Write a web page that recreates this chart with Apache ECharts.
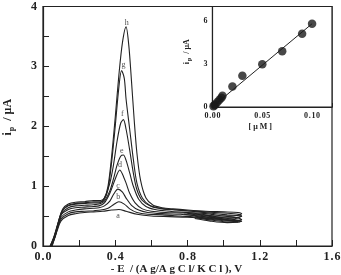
<!DOCTYPE html>
<html>
<head>
<meta charset="utf-8">
<script src="https://cdn.jsdelivr.net/npm/echarts@6/dist/echarts.min.js"></script>
<style>
  html, body { margin: 0; padding: 0; background: #fff; }
  #main { width: 341px; height: 275px; }
</style>
</head>
<body>
<div id="main"></div>
<script>
// voltammograms a..h : [E (V), ip (uA)]
var curveA = [[0.04,0],[0.06,0.1],[0.08,0.27],[0.10,0.42],[0.14,0.51],[0.18,0.54],[0.23,0.56],[0.28,0.57],[0.33,0.58],[0.38,0.6],[0.42,0.61],[0.46,0.58],[0.52,0.53],[0.60,0.5],[0.70,0.49],[0.80,0.48],[0.90,0.46],[1.00,0.44],[1.08,0.42]]
var curveB = [[0.04,0],[0.06,0.12],[0.08,0.3],[0.10,0.45],[0.14,0.54],[0.18,0.57],[0.23,0.58],[0.28,0.59],[0.32,0.6],[0.36,0.63],[0.39,0.69],[0.42,0.74],[0.45,0.7],[0.48,0.62],[0.52,0.56],[0.58,0.53],[0.66,0.52],[0.76,0.5],[0.86,0.48],[0.96,0.45],[1.04,0.42],[1.08,0.4]]
var curveC = [[0.04,0],[0.06,0.14],[0.08,0.32],[0.10,0.48],[0.14,0.57],[0.18,0.6],[0.23,0.62],[0.28,0.63],[0.31,0.64],[0.34,0.67],[0.37,0.75],[0.39,0.86],[0.415,0.95],[0.44,0.9],[0.46,0.8],[0.49,0.68],[0.53,0.6],[0.58,0.56],[0.66,0.54],[0.76,0.53],[0.86,0.5],[0.96,0.47],[1.04,0.43],[1.09,0.4],[1.02,0.39],[0.92,0.42],[0.84,0.46]]
var curveD = [[0.04,0],[0.06,0.15],[0.08,0.35],[0.10,0.52],[0.14,0.61],[0.18,0.64],[0.23,0.65],[0.28,0.66],[0.31,0.67],[0.34,0.72],[0.37,0.88],[0.40,1.12],[0.425,1.27],[0.44,1.2],[0.46,1.05],[0.48,0.88],[0.51,0.72],[0.55,0.62],[0.60,0.58],[0.68,0.56],[0.78,0.55],[0.88,0.52],[0.98,0.48],[1.06,0.44],[1.10,0.41],[1.03,0.4],[0.94,0.43],[0.85,0.47]]
var curveE = [[0.045,0],[0.065,0.17],[0.085,0.38],[0.105,0.55],[0.14,0.64],[0.18,0.67],[0.23,0.68],[0.28,0.69],[0.31,0.7],[0.34,0.75],[0.37,0.92],[0.39,1.12],[0.41,1.35],[0.43,1.5],[0.445,1.52],[0.46,1.43],[0.48,1.22],[0.50,1.0],[0.53,0.78],[0.57,0.66],[0.62,0.61],[0.70,0.58],[0.80,0.56],[0.90,0.54],[1.00,0.5],[1.08,0.47],[1.10,0.44],[1.02,0.42],[0.92,0.45],[0.84,0.5]]
var curveF = [[0.045,0],[0.065,0.18],[0.085,0.4],[0.105,0.58],[0.14,0.67],[0.18,0.7],[0.23,0.71],[0.28,0.72],[0.31,0.72],[0.34,0.8],[0.37,1.05],[0.39,1.35],[0.41,1.75],[0.43,2.05],[0.445,2.11],[0.46,1.95],[0.48,1.6],[0.50,1.22],[0.52,0.94],[0.55,0.76],[0.60,0.66],[0.66,0.62],[0.74,0.6],[0.82,0.58],[0.92,0.55],[1.02,0.52],[1.10,0.5],[1.05,0.45],[0.96,0.46],[0.86,0.5],[0.78,0.53]]
var curveG = [[0.05,0],[0.07,0.18],[0.09,0.42],[0.11,0.6],[0.14,0.68],[0.18,0.71],[0.23,0.72],[0.28,0.74],[0.32,0.74],[0.34,0.78],[0.36,0.95],[0.38,1.4],[0.40,2.0],[0.42,2.65],[0.435,2.93],[0.45,2.8],[0.46,2.45],[0.48,1.95],[0.50,1.45],[0.52,1.05],[0.55,0.8],[0.59,0.68],[0.65,0.63],[0.72,0.61],[0.80,0.59],[0.90,0.57],[1.00,0.55],[1.08,0.53],[1.10,0.5],[1.04,0.47],[0.96,0.48],[0.88,0.51],[0.80,0.54]]
var curveH = [[0.05,0],[0.07,0.2],[0.09,0.45],[0.11,0.62],[0.14,0.7],[0.18,0.73],[0.23,0.74],[0.28,0.76],[0.32,0.76],[0.34,0.8],[0.36,1.0],[0.38,1.5],[0.40,2.15],[0.42,2.85],[0.44,3.4],[0.46,3.66],[0.475,3.35],[0.49,2.75],[0.505,2.1],[0.52,1.55],[0.54,1.1],[0.57,0.8],[0.61,0.68],[0.66,0.64],[0.72,0.62],[0.80,0.6],[0.90,0.58],[1.00,0.57],[1.08,0.56],[1.10,0.54],[1.04,0.5],[0.96,0.5],[0.88,0.53],[0.80,0.56]]

var curveNames = ['a','b','c','d','e','f','g','h']
var labelX = [0.415, 0.417, 0.415, 0.426, 0.436, 0.439, 0.445, 0.463]
var labelY = [0.5, 0.82, 1.0, 1.35, 1.59, 2.2, 3.02, 3.72]

// inset calibration
var concX = [0.001, 0.002, 0.003, 0.005, 0.007, 0.009, 0.01, 0.02, 0.03, 0.05, 0.07, 0.09, 0.1]
var peakY = [0.06, 0.12, 0.2, 0.35, 0.5, 0.65, 0.78, 1.42, 2.17, 2.97, 3.88, 5.1, 5.8]
var fitX = [0, 0.1]
var fitY = [0.02, 5.8]

var serif = 'Liberation Serif'

function spaced(s) {
    return s.split('').join('\u200a')
}

var chart = echarts.init(document.getElementById('main'))

var curves = [curveA, curveB, curveC, curveD, curveE, curveF, curveG, curveH]
var series = curves.map(function (c, i) {
    return {
        name: curveNames[i],
        type: 'line',
        xAxisIndex: 0,
        yAxisIndex: 0,
        data: c,
        smooth: 0.3,
        symbol: 'none',
        lineStyle: { color: '#222', width: 1.1 },
        z: 3
    }
})

// small letters on the peaks
series.push({
    type: 'scatter',
    xAxisIndex: 0,
    yAxisIndex: 0,
    data: labelX.map(function (x, i) { return [x, labelY[i], curveNames[i]] }),
    symbolSize: 1,
    itemStyle: { color: 'rgba(0,0,0,0)' },
    label: {
        show: true,
        position: 'inside',
        formatter: function (p) { return p.value[2] },
        fontFamily: serif,
        fontSize: 8,
        color: '#222'
    },
    z: 4
})

series.push({
    type: 'line',
    xAxisIndex: 1,
    yAxisIndex: 1,
    data: fitX.map(function (x, i) { return [x, fitY[i]] }),
    symbol: 'none',
    lineStyle: { color: '#222', width: 1 },
    z: 5
})

series.push({
    type: 'scatter',
    xAxisIndex: 1,
    yAxisIndex: 1,
    data: concX.map(function (x, i) { return [x, peakY[i]] }),
    symbolSize: 8.5,
    itemStyle: { color: '#1a1a1a' },
    z: 6
})

var axisLine = { lineStyle: { color: '#222', width: 1.2 } }

var option = {
    backgroundColor: '#fff',
    animation: false,
    grid: [
        { left: 43, right: 9, top: 6.5, bottom: 29, show: true, borderColor: '#222', borderWidth: 1.2, outerBoundsMode: 'none', containLabel: false },
        { left: 212.5, right: 9, top: 6.5, bottom: 168, show: true, backgroundColor: '#fff', borderColor: '#222', borderWidth: 1.2, z: 4, outerBoundsMode: 'none', containLabel: false }
    ],
    xAxis: [
        {
            gridIndex: 0, type: 'value', min: 0, max: 1.6, interval: 0.2,
            axisLine: axisLine,
            axisTick: { inside: true, length: 6, lineStyle: { color: '#222' } },
            splitLine: { show: false },
            axisLabel: {
                fontFamily: serif, fontWeight: 'bold', fontSize: 12, color: '#222', margin: 5,
                formatter: function (v) {
                    return Math.round(v * 10) % 4 === 0 ? spaced(v.toFixed(1)) : ''
                }
            },
            name: '- E  / (A g/A g C l/ K C l ), V',
            nameLocation: 'middle',
            nameGap: 18,
            nameMoveOverlap: false,
            nameTextStyle: { fontFamily: serif, fontWeight: 'bold', fontSize: 11, color: '#222', padding: [0, 22, 0, 0] }
        },
        {
            gridIndex: 1, type: 'value', min: 0, max: 0.12, interval: 0.025,
            axisLine: axisLine,
            axisTick: { inside: true, length: 4, lineStyle: { color: '#222' } },
            splitLine: { show: false },
            axisLabel: {
                fontFamily: serif, fontWeight: 'bold', fontSize: 8, color: '#222', margin: 5,
                formatter: function (v) {
                    var k = Math.round(v * 1000)
                    return (k % 50 === 0 && k <= 100) ? spaced(v.toFixed(2)) : ''
                }
            },
            name: '[ μ M ]',
            nameLocation: 'middle',
            nameGap: 16,
            nameMoveOverlap: false,
            nameTextStyle: { fontFamily: serif, fontWeight: 'bold', fontSize: 8, color: '#222', padding: [0, 24, 0, 0] }
        }
    ],
    yAxis: [
        {
            gridIndex: 0, type: 'value', min: 0, max: 4, interval: 0.5,
            axisLine: axisLine,
            axisTick: { inside: true, length: 6, lineStyle: { color: '#222' } },
            splitLine: { show: false },
            axisLabel: {
                fontFamily: serif, fontWeight: 'bold', fontSize: 12, color: '#222', margin: 6,
                formatter: function (v) { return Math.round(v * 10) % 10 === 0 ? String(v) : '' }
            },
            name: '{i|i}{p|p}{u|  / μA}',
            nameLocation: 'middle',
            nameRotate: 90,
            nameGap: 27,
            nameMoveOverlap: false,
            nameTextStyle: {
                color: '#222',
                padding: [0, 0, 0, 18],
                rich: {
                    i: { fontFamily: serif, fontWeight: 'bold', fontSize: 12, color: '#222' },
                    p: { fontFamily: serif, fontWeight: 'bold', fontSize: 8, color: '#222', padding: [9, 0, 0, 1] },
                    u: { fontFamily: serif, fontWeight: 'bold', fontSize: 12, color: '#222' }
                }
            }
        },
        {
            gridIndex: 1, type: 'value', min: 0, max: 7, interval: 1.5,
            axisLine: axisLine,
            axisTick: { inside: true, length: 4, lineStyle: { color: '#222' } },
            splitLine: { show: false },
            axisLabel: {
                fontFamily: serif, fontWeight: 'bold', fontSize: 8, color: '#222', margin: 5,
                formatter: function (v) {
                    var k = Math.round(v * 10)
                    return (k % 30 === 0 && k < 70) ? String(v) : ''
                }
            },
            name: '{i|i}{p|p}{u|  / μA}',
            nameLocation: 'middle',
            nameRotate: 90,
            nameGap: 20,
            nameMoveOverlap: false,
            nameTextStyle: {
                color: '#222',
                padding: [0, 0, 0, 10],
                rich: {
                    i: { fontFamily: serif, fontWeight: 'bold', fontSize: 8, color: '#222' },
                    p: { fontFamily: serif, fontWeight: 'bold', fontSize: 6, color: '#222', padding: [6, 0, 0, 1] },
                    u: { fontFamily: serif, fontWeight: 'bold', fontSize: 8, color: '#222' }
                }
            }
        }
    ],
    series: series
}

chart.setOption(option)
window.addEventListener('resize', function () {
    chart.resize()
})
</script>
</body>
</html>
